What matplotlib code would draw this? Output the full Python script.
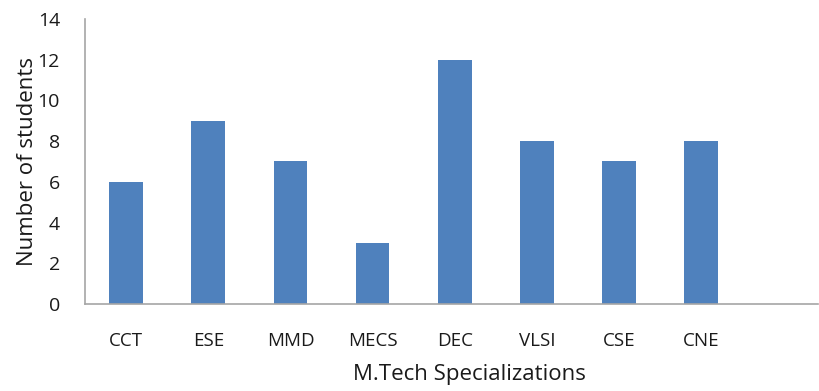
import matplotlib.pyplot as plt

specializations = ["CCT", "ESE", "MMD", "MECS", "DEC", "VLSI", "CSE", "CNE"]
students = [6, 9, 7, 3, 12, 8, 7, 8]

plt.rcParams['font.family'] = ['Open Sans', 'DejaVu Sans']

fig = plt.figure(figsize=(8.19, 3.91), dpi=100)
ax = fig.add_axes([0.1038, 0.2225, 0.895, 0.729])

x = list(range(len(specializations)))
ax.bar(x, students, width=0.41, color="#4F81BD", zorder=2)

ax.set_xlim(-0.5, 8.42)
ax.set_ylim(0, 14)
ax.set_yticks(range(0, 15, 2))
ax.set_xticks(x)
ax.set_xticklabels(specializations)

for s in ["top", "right"]:
    ax.spines[s].set_visible(False)
for s in ["left", "bottom"]:
    ax.spines[s].set_color("#A6A6A6")
    ax.spines[s].set_linewidth(1.2)

ax.tick_params(axis="both", length=0, colors="#1a1a1a")
ax.tick_params(axis="x", pad=20, labelsize=13.5)
ax.tick_params(axis="y", pad=18, labelsize=14)

ax.set_ylabel("Number of students", fontsize=16, color="#1a1a1a", labelpad=0)
ax.set_xlabel("M.Tech Specializations", fontsize=16, color="#1a1a1a", labelpad=13)
ax.xaxis.set_label_coords(0.525, -0.21)

fig.savefig("out.png", dpi=100)
